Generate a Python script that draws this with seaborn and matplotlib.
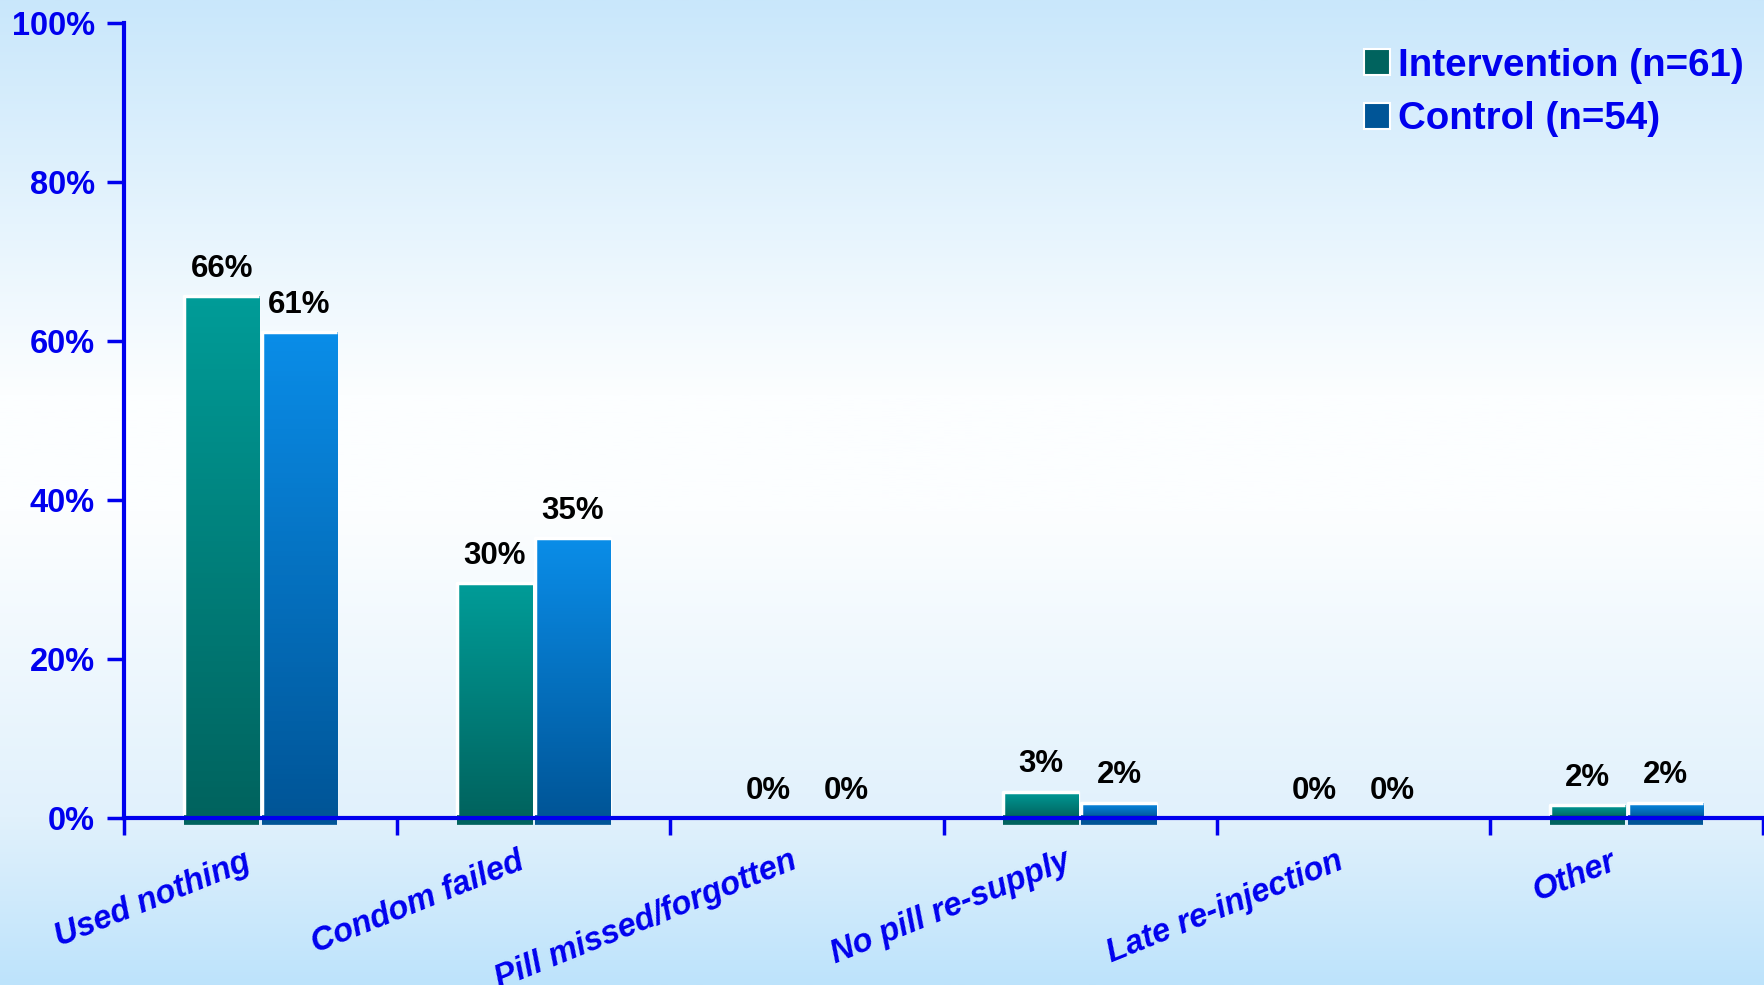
import numpy as np
import pandas as pd
import matplotlib
matplotlib.use("Agg")
import matplotlib.pyplot as plt
from matplotlib.lines import Line2D
from matplotlib.colors import to_rgb
from matplotlib.transforms import ScaledTranslation
import seaborn as sns

# ---- data ----
categories = ["Used nothing", "Condom failed", "Pill missed/forgotten",
              "No pill re-supply", "Late re-injection", "Other"]
series = ["Intervention (n=61)", "Control (n=54)"]
intervention = [65.6, 29.5, 0.0, 3.3, 0.0, 1.6]
control = [61.1, 35.2, 0.0, 1.9, 0.0, 1.9]
y_ticks = [0, 20, 40, 60, 80, 100]

df = pd.DataFrame({
    "category": categories * 2,
    "series": [series[0]] * len(categories) + [series[1]] * len(categories),
    "value": intervention + control,
})

sns.set_theme(style="white")
plt.rcParams["font.family"] = ["Liberation Sans", "DejaVu Sans"]

BLUE = "#0000ee"
teal_top, teal_bot = "#009c98", "#00635e"
blue_top, blue_bot = "#0a8de8", "#005597"
base_cols = ["#00807b", "#0070c0"]

fig = plt.figure(figsize=(17.65, 9.85), dpi=100)

# background gradient
bg = fig.add_axes([0, 0, 1, 1], zorder=-10)
stops = [(0.0, "#c9e7fb"), (0.40, "#fcfeff"), (0.52, "#fcfeff"),
         (0.83, "#e1f1fc"), (1.0, "#bde3fb")]
ys = np.linspace(0, 1, 400)
cols = np.zeros((400, 1, 3))
sp = [s[0] for s in stops]
for c in range(3):
    cols[:, 0, c] = np.interp(ys, sp, [to_rgb(s[1])[c] for s in stops])
bg.imshow(cols, aspect="auto", extent=[0, 1, 0, 1], origin="upper")
bg.set_axis_off()

ax = fig.add_axes([0.0703, 0.1695, 0.9286, 0.8075])
ax.set_facecolor("none")

sns.barplot(data=df, x="category", y="value", hue="series", order=categories,
            hue_order=series, palette=base_cols, width=0.57, gap=0.03,
            saturation=1, ax=ax, legend=False, errorbar=None)

grads = [(teal_top, teal_bot), (blue_top, blue_bot)]
for ci, cont in enumerate(ax.containers):
    top_c, bot_c = grads[ci]
    g = np.zeros((100, 1, 3))
    t = np.linspace(0, 1, 100)
    for c in range(3):
        g[:, 0, c] = to_rgb(top_c)[c] * (1 - t) + to_rgb(bot_c)[c] * t
    for p in cont.patches:
        x, w, h = p.get_x(), p.get_width(), p.get_height()
        if h <= 0:
            continue
        p.set_facecolor(bot_c)
        im = ax.imshow(g, extent=[x, x + w, 0, h], aspect="auto",
                       origin="upper", zorder=p.get_zorder() + 0.1)
        im.set_clip_path(p)
        ax.plot([x, x, x + w], [0, h, h], color="white", lw=2.5,
                zorder=p.get_zorder() + 0.2, solid_capstyle="butt")
        # dark shadow just below the baseline
        ax.plot([x, x + w], [0, 0], color=bot_c, lw=7, zorder=4,
                solid_capstyle="butt", clip_on=False,
                transform=ax.transData + ScaledTranslation(0, -2 / 100, fig.dpi_scale_trans))
    labels = [f"{v:.0f}%" for v in cont.datavalues]
    ax.bar_label(cont, labels=labels, padding=9, fontsize=22.5,
                 fontweight="bold", color="black")

ax.set_xlim(-0.5, len(categories) - 0.5)
ax.set_ylim(0, 100)
ax.set_yticks(y_ticks)
ax.set_yticklabels([f"{v}%" for v in y_ticks])
ax.set_xlabel("")
ax.set_ylabel("")

# category labels (anchored slightly left of each group centre, major ticks hidden)
ax.set_xticks(np.arange(len(categories)) - 0.062)
ax.set_xticklabels(categories, rotation=22, ha="right", rotation_mode="anchor",
                   fontsize=23.5, fontstyle="italic", fontweight="bold", color=BLUE)
ax.set_xticks(np.arange(len(categories) + 1) - 0.5, minor=True)
ax.tick_params(axis="x", which="major", length=0, pad=20)
ax.tick_params(axis="x", which="minor", length=12, width=2.5, color=BLUE,
               direction="out", bottom=True)
ax.tick_params(axis="y", length=12, width=2.5, color=BLUE, direction="out",
               labelsize=23.5, labelcolor=BLUE, left=True, pad=9)
for lab in ax.get_yticklabels():
    lab.set_fontweight("bold")

for s in ["top", "right"]:
    ax.spines[s].set_visible(False)
for s in ["left", "bottom"]:
    ax.spines[s].set_color(BLUE)
    ax.spines[s].set_linewidth(3)
    ax.spines[s].set_zorder(5)

handles = [Line2D([], [], marker="s", linestyle="none", markersize=19,
                  markerfacecolor=c, markeredgecolor="white", markeredgewidth=1.5)
           for c in [teal_bot, blue_bot]]
leg = fig.legend(handles, series, loc="upper left",
                 bbox_to_anchor=(1335 / 1765, 1 - 21 / 985), frameon=False,
                 fontsize=27.7, handlelength=0.8, handletextpad=0.15,
                 labelspacing=0.45, borderpad=0.2)
for t in leg.get_texts():
    t.set_color(BLUE)
    t.set_fontweight("bold")

fig.savefig("out.png", dpi=100)
